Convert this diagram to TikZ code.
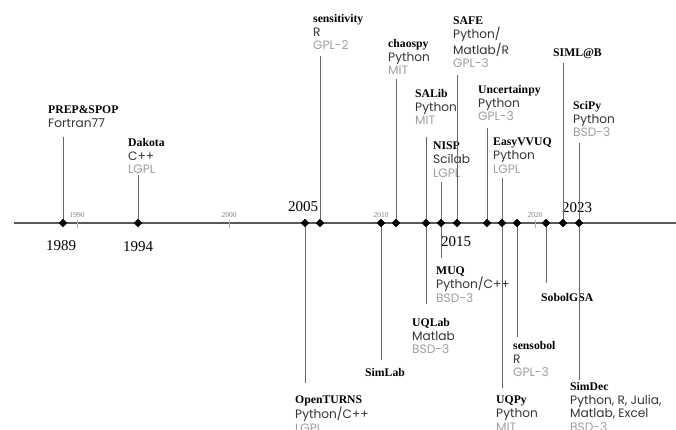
\documentclass[tikz,border=0pt]{standalone}
\usepackage{fontspec}
\setmainfont{Liberation Serif}
\setsansfont{Poppins}[Scale=1.04]
\usetikzlibrary{shapes.geometric}
\definecolor{lic}{gray}{0.62}
\definecolor{lng}{gray}{0.2}
\tikzset{ ev/.style = { diamond
                       , fill         = black
                       , inner sep    = 0pt
                       , minimum size = 8pt
                       },
          lab/.style = { align     = left
                       , anchor    = north west
                       , inner sep = 1pt
                       , font      = \fontsize{11.7}{13.7}\selectfont
                       },
          yr/.style = { inner sep = 0pt
                      , font      = \fontsize{15}{15}\selectfont
                      },
          tk/.style = { inner sep = 0pt
                      , text      = gray
                      , font      = \fontsize{7.5}{7.5}\selectfont
                      },
          stem/.style = { draw       = black!60
                        , line width = 0.8pt
                        }
        }

\begin{document}
\begin{tikzpicture}[x=1pt, y=-1pt]
    \useasboundingbox (0,0) rectangle (676,430);
    % time axis
    \coordinate (a0) at (14,223);
    \coordinate (a1) at (676,223);
    \draw[line width=1.5pt, black!65] (a0) -- (a1);
    % decade ticks
    \node[tk] (t1990) at (77,215) {1990};
    \node[tk] (t2000) at (229,215) {2000};
    \node[tk] (t2010) at (381,215) {2010};
    \node[tk] (t2020) at (535,215) {2020};
    \draw[gray!60] (t1990.south) ++(0,2) -- ++(0,8);
    \draw[gray!60] (t2000.south) ++(0,2) -- ++(0,8);
    \draw[gray!60] (t2020.south) ++(0,2) -- ++(0,8);
    % years
    \node[yr] (y1989) at (61,246) {1989};
    \node[yr] (y1994) at (138,247) {1994};
    \node[yr] (y2005) at (303,207) {2005};
    \node[yr] (y2015) at (456,242) {2015};
    \node[yr] (y2023) at (577,208) {2023};
    % events on the axis
    \node[ev] (e1989) at (63,223) {};
    \node[ev] (e1994) at (138,223) {};
    \node[ev] (e2005) at (305,223) {};
    \node[ev] (e2006) at (320,223) {};
    \node[ev] (e2010) at (381,223) {};
    \node[ev] (e2011) at (396,223) {};
    \node[ev] (e2013) at (426,223) {};
    \node[ev] (e2014) at (441,223) {};
    \node[ev] (e2015) at (457,223) {};
    \node[ev] (e2017) at (487,223) {};
    \node[ev] (e2018) at (502,223) {};
    \node[ev] (e2019) at (517,223) {};
    \node[ev] (e2021) at (546,223) {};
    \node[ev] (e2022) at (563,223) {};
    \node[ev] (e2023) at (579,223) {};
    % packages above
    \node[lab] (prep) at (47,105) {\textbf{PREP\&SPOP}\\{\sffamily\color{lng}Fortran77}};
    \node[lab] (dakota) at (127,137) {\textbf{Dakota}\\{\sffamily\color{lng}C++}\\{\sffamily\color{lic}LGPL}};
    \node[lab] (sens) at (312,13) {\textbf{sensitivity}\\{\sffamily\color{lng}R}\\{\sffamily\color{lic}GPL-2}};
    \node[lab] (chaospy) at (387,38) {\textbf{chaospy}\\{\sffamily\color{lng}Python}\\{\sffamily\color{lic}MIT}};
    \node[lab] (salib) at (414,88) {\textbf{SALib}\\{\sffamily\color{lng}Python}\\{\sffamily\color{lic}MIT}};
    \node[lab] (nisp) at (432,141) {\textbf{NISP}\\{\sffamily\color{lng}Scilab}\\{\sffamily\color{lic}LGPL}};
    \node[lab] (safe) at (452,16) {\textbf{SAFE}\\{\sffamily\color{lng}Python/}\\{\sffamily\color{lng}Matlab/R}\\{\sffamily\color{lic}GPL-3}};
    \node[lab] (uncert) at (477,84) {\textbf{Uncertainpy}\\{\sffamily\color{lng}Python}\\{\sffamily\color{lic}GPL-3}};
    \node[lab] (easy) at (492,137) {\textbf{EasyVVUQ}\\{\sffamily\color{lng}Python}\\{\sffamily\color{lic}LGPL}};
    \node[lab] (simlb) at (552,48) {\textbf{SIML@B}};
    \node[lab] (scipy) at (572,100) {\textbf{SciPy}\\{\sffamily\color{lng}Python}\\{\sffamily\color{lic}BSD-3}};
    % packages below
    \node[lab] (openturns) at (294,395) {\textbf{OpenTURNS}\\{\sffamily\color{lng}Python/C++}\\{\sffamily\color{lic}LGPL}};
    \node[lab] (simlab) at (364,367) {\textbf{SimLab}};
    \node[lab] (uqlab) at (411,317) {\textbf{UQLab}\\{\sffamily\color{lng}Matlab}\\{\sffamily\color{lic}BSD-3}};
    \node[lab] (muq) at (435,266) {\textbf{MUQ}\\{\sffamily\color{lng}Python/C++}\\{\sffamily\color{lic}BSD-3}};
    \node[lab] (uqpy) at (495,395) {\textbf{UQPy}\\{\sffamily\color{lng}Python}\\{\sffamily\color{lic}MIT}};
    \node[lab] (sensobol) at (512,340) {\textbf{sensobol}\\{\sffamily\color{lng}R}\\{\sffamily\color{lic}GPL-3}};
    \node[lab] (sobolgsa) at (540,292) {\textbf{SobolGSA}};
    \node[lab] (simdec) at (569,381) {\textbf{SimDec}\\{\sffamily\color{lng}Python, R, Julia,}\\{\sffamily\color{lng}Matlab, Excel}\\{\sffamily\color{lic}BSD-3}};
    % stems
    \draw[stem, shorten >=8pt] (e1989) -- (e1989 |- prep.south);
    \draw[stem, shorten >=0pt] (e1994) -- (e1994 |- dakota.south);
    \draw[stem, shorten >=5pt] (e2006) -- (e2006 |- sens.south);
    \draw[stem, shorten >=3pt] (e2011) -- (e2011 |- chaospy.south);
    \draw[stem, shorten >=11pt] (e2013) -- (e2013 |- salib.south);
    \draw[stem, shorten >=3pt] (e2014) -- (e2014 |- nisp.south);
    \draw[stem, shorten >=6pt] (e2015) -- (e2015 |- safe.south);
    \draw[stem, shorten >=6pt] (e2017) -- (e2017 |- uncert.south);
    \draw[stem, shorten >=3pt] (e2018) -- (e2018 |- easy.south);
    \draw[stem, shorten >=3pt] (e2022) -- (e2022 |- simlb.south);
    \draw[stem, shorten >=5pt] (e2023) -- (e2023 |- scipy.south);
    \draw[stem, shorten >=12pt] (e2005) -- (e2005 |- openturns.north);
    \draw[stem, shorten >=7pt] (e2010) -- (e2010 |- simlab.north);
    \draw[stem, shorten >=13pt] (e2013) -- (e2013 |- uqlab.north);
    \draw[stem, shorten >=8pt] (e2014) -- (e2014 |- muq.north);
    \draw[stem, shorten >=7pt] (e2018) -- (e2018 |- uqpy.north);
    \draw[stem, shorten >=3pt] (e2019) -- (e2019 |- sensobol.north);
    \draw[stem, shorten >=9pt] (e2021) -- (e2021 |- sobolgsa.north);
    \draw[stem, shorten >=1pt] (e2023) -- (e2023 |- simdec.north);
    % diamonds again on top of the stems
    \foreach \e in {e1989,e1994,e2005,e2006,e2010,e2011,e2013,e2014,e2015,e2017,e2018,e2019,e2021,e2022,e2023}
        \fill (\e.north) -- (\e.east) -- (\e.south) -- (\e.west) -- cycle;
\end{tikzpicture}
\end{document}
